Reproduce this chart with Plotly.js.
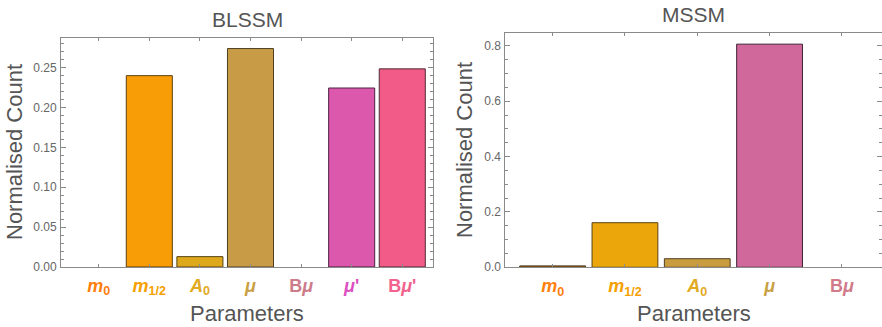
<!DOCTYPE html>
<html>
<head>
<meta charset="utf-8">
<script src="https://cdn.plot.ly/plotly-3.0.1.min.js"></script>
<style>html,body{margin:0;padding:0;background:#fff}#chart{width:882px;height:327px}</style>
</head>
<body>
<div id="chart"></div>
<script>
// ---- data ----
const blssmCategories = ["m0", "m1/2", "A0", "mu", "Bmu", "mu'", "Bmu'"];
const blssmLabels = ["<i>m</i><sub>0</sub>", "<i>m</i><sub>1/2</sub>", "<i>A</i><sub>0</sub>", "<i>μ</i>", "B<i>μ</i>", "<i>μ</i>'", "B<i>μ</i>'"];
const blssmValues = [0, 0.240, 0.013, 0.274, 0, 0.2245, 0.2485];

const mssmCategories = ["m0", "m1/2", "A0", "mu", "Bmu"];
const mssmLabels = ["<i>m</i><sub>0</sub>", "<i>m</i><sub>1/2</sub>", "<i>A</i><sub>0</sub>", "<i>μ</i>", "B<i>μ</i>"];
const mssmValues = [0.005, 0.161, 0.031, 0.806, 0];

// ---- styles ----
const blssmFill = ["#f07a1a", "#f99d06", "#dea81c", "#c89b46", "#c8788a", "#dc58ac", "#f25b87"];
const blssmEdge = ["#5a3a10", "#5a3f10", "#5a4210", "#4e3f22", "#4e3a3a", "#4a2242", "#4e2a36"];
const blssmLabelColor = ["#ff7f0e", "#f5a000", "#e2aa1e", "#c9a044", "#cc7b8a", "#dd4fc0", "#f2628e"];
const mssmFill = ["#a06a20", "#eaa60a", "#c99c40", "#d0689c", "#cc7b8a"];
const mssmEdge = ["#4a3210", "#5a4210", "#4e3f22", "#3e2232", "#4e3a3a"];
const mssmLabelColor = ["#ff7f0e", "#f5a000", "#e2aa1e", "#c9a044", "#d07a8a"];

function colored(labels, colors) {
  return labels.map((l, i) => '<span style="color:' + colors[i] + '"><b>' + l + '</b></span>');
}
// empty bars are not outlined in the reference
function edgeWidths(vals) { return vals.map(v => v > 0 ? 1 : 0); }

const frame = "#8a8a8a";
const font = "Liberation Sans, Arial, sans-serif";

const traces = [
  {type: "bar", x: blssmCategories, y: blssmValues, xaxis: "x", yaxis: "y",
   marker: {color: blssmFill, line: {color: blssmEdge, width: edgeWidths(blssmValues)}}, hoverinfo: "x+y"},
  {type: "bar", x: mssmCategories, y: mssmValues, xaxis: "x2", yaxis: "y2",
   marker: {color: mssmFill, line: {color: mssmEdge, width: edgeWidths(mssmValues)}}, hoverinfo: "x+y"}
];

function xax(cats, labels, colors, domain, range, anchor) {
  return {
    domain: domain, anchor: anchor, type: "category", range: range,
    tickmode: "array", tickvals: cats, ticktext: colored(labels, colors),
    ticks: "inside", ticklen: 3, tickcolor: frame, mirror: "ticks",
    showline: true, linecolor: frame, linewidth: 1, showgrid: false, zeroline: false,
    tickfont: {family: font, size: 18}, ticklabelstandoff: 2
  };
}
function yax(domain, range, dtick, minor, fmt, anchor) {
  return {
    domain: domain, anchor: anchor, range: range, dtick: dtick, tickformat: fmt,
    ticks: "inside", ticklen: 5, tickcolor: frame, mirror: "ticks",
    minor: {dtick: minor, ticks: "inside", ticklen: 3, tickcolor: frame, showgrid: false},
    showline: true, linecolor: frame, linewidth: 1, showgrid: false, zeroline: false,
    tickfont: {family: font, size: 12, color: "#666"}, ticklabelstandoff: 1
  };
}

const titleFont = {family: font, size: 21, color: "#555"};
const axTitleFont = {family: font, size: 22, color: "#555"};

const layout = {
  width: 882, height: 327,
  margin: {l: 0, r: 0, t: 0, b: 0},
  paper_bgcolor: "#fff", plot_bgcolor: "#fff",
  showlegend: false, bargap: 0.09,
  xaxis: xax(blssmCategories, blssmLabels, blssmLabelColor, [0.0692, 0.4909], [-0.745, 6.607], "y"),
  yaxis: yax([0.1835, 0.8847], [0, 0.2876], 0.05, 0.01, ".2f", "x"),
  xaxis2: xax(mssmCategories, mssmLabels, mssmLabelColor, [0.5729, 1.0], [-0.655, 4.555], "y2"),
  yaxis2: yax([0.1826, 0.898], [0, 0.845], 0.2, 0.05, ".1f", "x2"),
  annotations: [
    {text: "BLSSM", xref: "paper", yref: "paper", x: 247/882, y: 1 - 19/327, xanchor: "center", yanchor: "middle", showarrow: false, font: titleFont},
    {text: "MSSM", xref: "paper", yref: "paper", x: 693/882, y: 1 - 15/327, xanchor: "center", yanchor: "middle", showarrow: false, font: titleFont},
    {text: "Normalised Count", xref: "paper", yref: "paper", x: 15/882, y: 1 - 152/327, textangle: -90, xanchor: "center", yanchor: "middle", showarrow: false, font: axTitleFont},
    {text: "Normalised Count", xref: "paper", yref: "paper", x: 464/882, y: 1 - 150/327, textangle: -90, xanchor: "center", yanchor: "middle", showarrow: false, font: axTitleFont},
    {text: "Parameters", xref: "paper", yref: "paper", x: 247/882, y: 0, xanchor: "center", yanchor: "bottom", borderpad: 0, showarrow: false, font: axTitleFont},
    {text: "Parameters", xref: "paper", yref: "paper", x: 694/882, y: 0, xanchor: "center", yanchor: "bottom", borderpad: 0, showarrow: false, font: axTitleFont}
  ]
};

Plotly.newPlot("chart", traces, layout, {displayModeBar: false, staticPlot: true});
</script>
</body>
</html>
